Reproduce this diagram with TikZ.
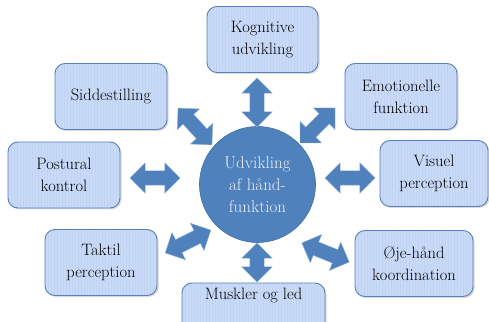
\documentclass[tikz,border=0pt]{standalone}
\usepackage{fontspec}
\usepackage{tikz}
\usetikzlibrary{shapes}
\usetikzlibrary{arrows}
\usetikzlibrary{shadows}

\definecolor{hubblue}{RGB}{79,129,189}
\definecolor{boxblue}{RGB}{201,218,248}
\definecolor{boxline}{RGB}{88,128,186}

\begin{document}
\begin{tikzpicture}[x=1pt, y=1pt,
  topic/.style={draw=boxline, line width=0.9pt, fill=boxblue, rounded corners=10pt,
    minimum width=112pt, minimum height=66pt, align=center,
    font=\fontsize{16.5}{22}\selectfont,
    drop shadow={opacity=0.3, shadow xshift=1.5pt, shadow yshift=-1.5pt},
    path picture={\foreach \i in {0,3,...,150}
      \draw[boxblue!92!boxline, line width=0.6pt] ([xshift=\i pt]path picture bounding box.south west) -- ++(0,80);}},
  hub/.style={circle, draw=hubblue!85!black, line width=0.6pt, fill=hubblue,
    minimum size=116pt, inner sep=0pt, align=center, text=white!88!hubblue,
    font=\fontsize{17}{22}\selectfont},
  twoway/.style={double arrow, fill=hubblue, draw=hubblue!65!white, line width=0.4pt,
    inner xsep=0pt, inner ysep=7pt, double arrow head extend=8pt}]

\useasboundingbox (0,0) rectangle (489,321);

%Draw centre
\node[hub] (hand) at (257.5,136.5) {Udvikling\\af hånd-\\funktion};

%Draw boxes
\node[topic, minimum width=111pt] (kognitiv) at (262.5,281.5) {Kognitive\\udvikling};
\node[topic] (sidde) at (111,224.5) {Siddestilling};
\node[topic] (postural) at (64,146) {Postural\\kontrol};
\node[topic] (taktil) at (101,58.5) {Taktil\\perception};
\node[topic, minimum width=143pt] (muskler) at (253.5,5) {Muskler og led\\[22pt]};
\node[topic] (emotion) at (401,224.5) {Emotionelle\\funktion};
\node[topic, minimum width=108pt] (visuel) at (434,147.5) {Visuel\\perception};
\node[topic, minimum width=118pt] (oejehaand) at (414,57.5) {Øje-hånd\\koordination};

%Draw arrows
\foreach \nm/\x/\y/\ang/\len in {up/257/218.5/90/49, sidde/195/194.5/132.6/50,
  emotion/317.5/195.5/45/49.5, postural/155/143/0/50, visuel/350/143/0/50,
  taktil/188/79.5/26.6/51, oejehaand/325.5/68.5/-22/51, down/257/58.5/90/39} {
\node[twoway, rotate=\ang, minimum height=\len pt] (arr-\nm) at (\x,\y) {};
}

\end{tikzpicture}
\end{document}
